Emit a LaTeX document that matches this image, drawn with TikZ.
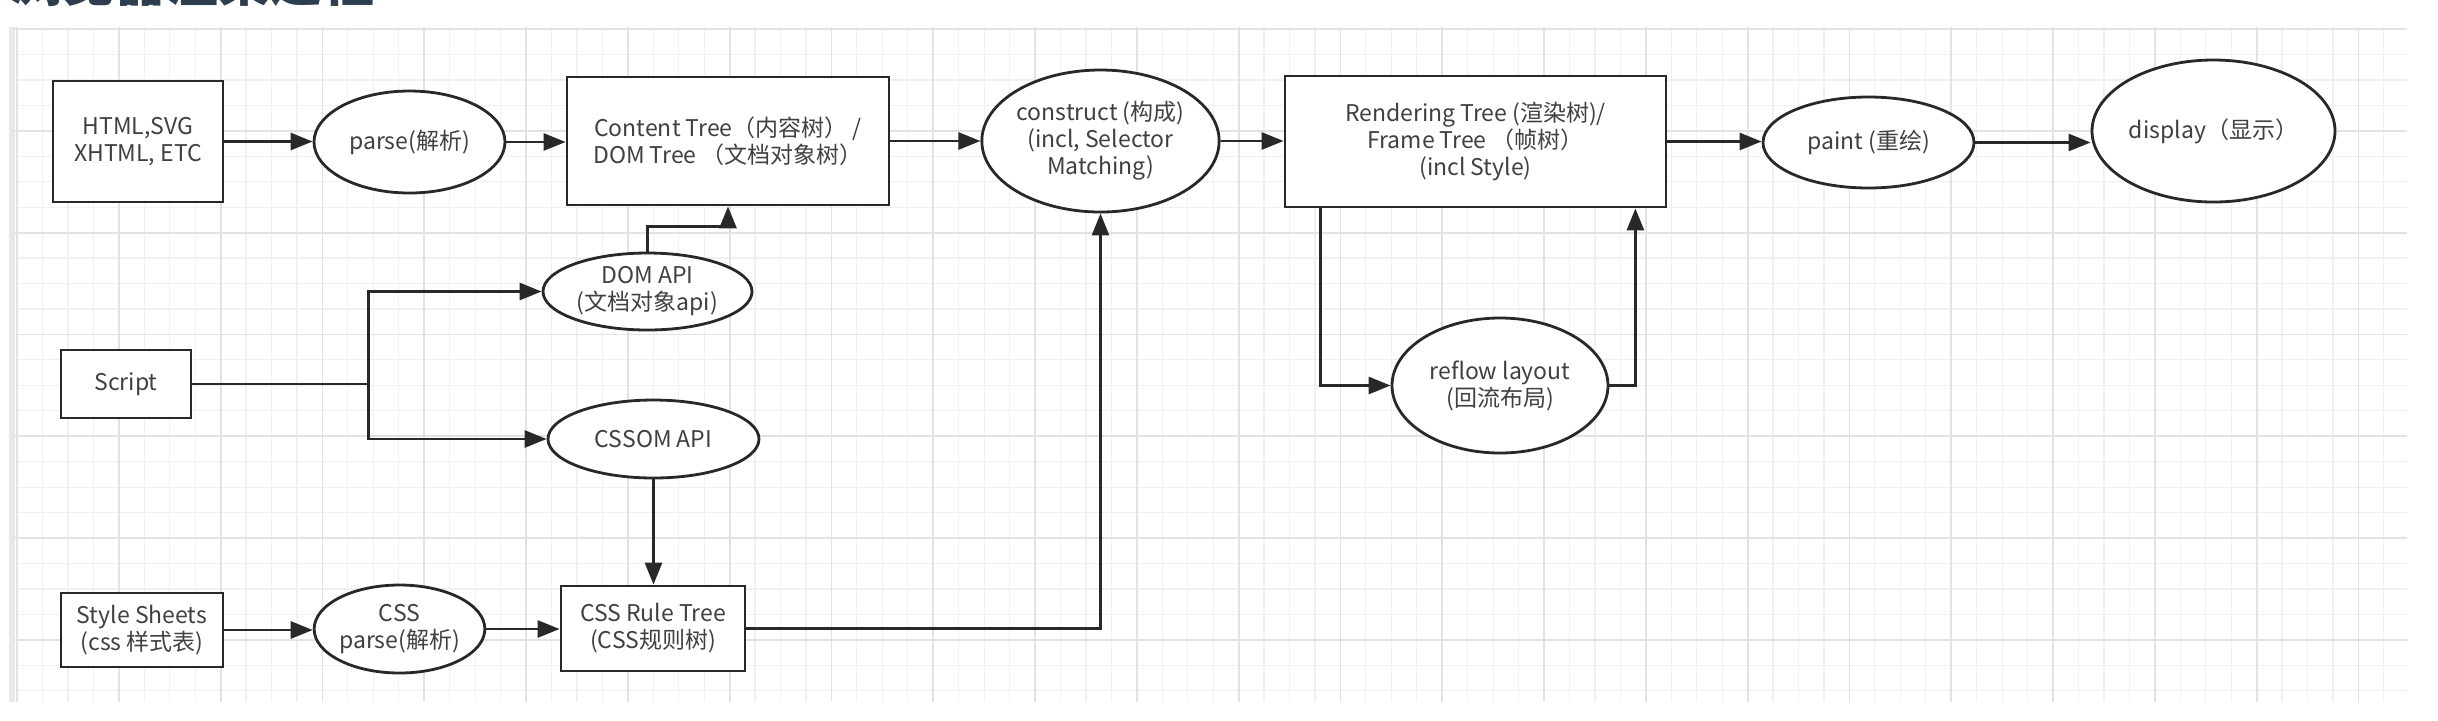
\documentclass[tikz,border=0pt]{standalone}
\usepackage{fontspec}
\setmainfont{Noto Sans CJK SC}
\usetikzlibrary{shapes.geometric,arrows.meta,calc}
\definecolor{ink}{RGB}{40,40,40}
\definecolor{txt}{RGB}{64,64,64}
\definecolor{gridminor}{RGB}{240,240,240}
\definecolor{gridmajor}{RGB}{226,226,226}
\definecolor{gridstrip}{RGB}{232,232,232}
\definecolor{titlecol}{RGB}{44,62,80}
\newcommand\lblfont{\fontsize{11.5}{13.5}\selectfont}
\begin{document}
\begin{tikzpicture}[x=0.5pt,y=-0.5pt,
  box/.style={draw=ink, line width=1.4pt, fill=white, rectangle, inner sep=0pt, align=center, text=txt, font=\lblfont},
  oval/.style={draw=ink, line width=1.4pt, fill=white, ellipse, inner sep=0pt, align=center, text=txt, font=\lblfont},
  conn/.style={draw=ink, line width=1.4pt},
  arr/.style={conn, -{Triangle[length=11pt,width=8.5pt]}},
  minorline/.style={draw=gridminor, line width=0.6pt},
  majorline/.style={draw=gridmajor, line width=0.9pt}]
\useasboundingbox (0,0) rectangle (2438,720);
\fill[white] (0,0) rectangle (2438,720);
% grid
\fill[gridstrip] (9,27) rectangle (15,702);
\foreach \i in {0,...,93} \draw[minorline] ({17+25.45*\i},27) -- ({17+25.45*\i},702);
\foreach \j in {0,...,26} \draw[minorline] (15,{29+25.45*\j}) -- (2407,{29+25.45*\j});
\foreach \i in {0,4,...,92} \draw[majorline] ({17+25.45*\i},27) -- ({17+25.45*\i},702);
\foreach \j in {0,4,...,24} \draw[majorline] (15,{29+25.45*\j}) -- (2407,{29+25.45*\j});
% title (cut off at the top, as in the reference)
\node[anchor=base west, inner sep=0pt, text=titlecol, font=\fontsize{26}{30}\selectfont\bfseries] (title) at (10,1) {浏览器渲染过程};
% nodes
\node[box, minimum width=85pt, minimum height=60.5pt] (html) at (138,141.5) {HTML,SVG\\XHTML, ETC};
\node[oval, minimum width=95.5pt, minimum height=51pt] (parse) at (409.5,142) {parse(解析)};
\node[box, minimum width=161pt, minimum height=64pt] (content) at (728,141) {Content Tree（内容树） /\\DOM Tree （文档对象树）};
\node[oval, minimum width=104.5pt, minimum height=38.5pt] (dom) at (647.5,291.5) {DOM API\\(文档对象api)};
\node[box, minimum width=65pt, minimum height=34pt] (script) at (126,384) {Script};
\node[oval, minimum width=105.5pt, minimum height=39pt] (cssom) at (653.5,439) {CSSOM API};
\node[box, minimum width=81pt, minimum height=37pt] (style) at (142,630) {Style Sheets\\(css 样式表)};
\node[oval, minimum width=84.5pt, minimum height=44pt] (cssparse) at (399.5,629) {CSS\\parse(解析)};
\node[box, minimum width=92pt, minimum height=42.5pt] (rule) at (653,628.5) {CSS Rule Tree\\(CSS规则树)};
\node[oval, minimum width=118.5pt, minimum height=71pt] (construct) at (1100.5,141) {construct (构成)\\(incl, Selector\\Matching)};
\node[box, minimum width=190.5pt, minimum height=65.5pt] (render) at (1475.5,141.5) {Rendering Tree (渲染树)/\\Frame Tree （帧树）\\(incl Style)};
\node[oval, minimum width=108pt, minimum height=67.5pt] (reflow) at (1500,385.5) {reflow layout\\(回流布局)};
\node[oval, minimum width=105.5pt, minimum height=45.5pt] (paint) at (1868.5,142.5) {paint (重绘)};
\node[oval, minimum width=121.5pt, minimum height=71pt] (display) at (2213.5,131) {display（显示）};
% connectors
\draw[arr] (html.east) -- (html.east -| parse.west);
\draw[arr] (parse.east) -- (parse.east -| content.west);
\draw[arr] (content.east) -- (content.east -| construct.west);
\draw[arr] (construct.east) -- (construct.east -| render.west);
\draw[arr] (render.east) -- (render.east -| paint.west);
\draw[arr] (paint.east) -- (paint.east -| display.west);
\draw[arr] (dom.north) -- ++(0,-25) -| (content.south);
\draw[conn] (script.east) -- ++(176,0) coordinate (fork);
\draw[arr] (fork) |- (dom.west);
\draw[arr] (fork) |- (cssom.west);
\draw[arr] (cssom.south) -- (cssom.south |- rule.north);
\draw[arr] (style.east) -- (style.east -| cssparse.west);
\draw[arr] (cssparse.east) -- (cssparse.east -| rule.west);
\draw[arr] (rule.east) -| (construct.south);
\draw[arr] ($(render.south west)+(37,0)$) |- (reflow.west);
\draw[arr] (reflow.east) -| ($(render.south east)+(-32,0)$);
\end{tikzpicture}
\end{document}
